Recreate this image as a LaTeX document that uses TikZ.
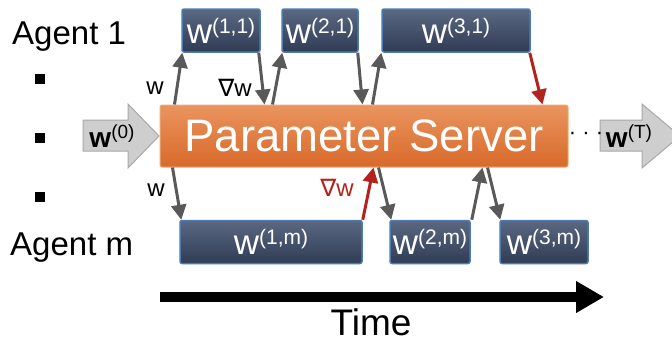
\documentclass[tikz,border=0pt]{standalone}
\usepackage{fontspec}
\setmainfont{Liberation Sans}
\newfontfamily\symfont{DejaVu Sans}
\usetikzlibrary{arrows.meta,calc}

\definecolor{slatetop}{RGB}{90,104,130}
\definecolor{slatebot}{RGB}{48,60,84}
\definecolor{slateedge}{RGB}{76,124,176}
\definecolor{orangetop}{RGB}{234,148,94}
\definecolor{orangebot}{RGB}{216,106,42}
\definecolor{orangeedge}{RGB}{240,170,120}
\definecolor{connGray}{RGB}{89,89,89}
\definecolor{gradRed}{RGB}{180,34,30}
\definecolor{blockFill}{RGB}{206,206,206}
\definecolor{blockEdge}{RGB}{168,168,168}

% w with a raised index, as printed in the boxes and block arrows
\newcommand{\wlabel}[2][35]{\fontsize{#1}{#1}\selectfont w\raisebox{10pt}{\fontsize{21}{21}\selectfont #2}}

\tikzset{
  agentbox/.style={draw=slateedge, line width=1.5pt, rounded corners=2pt,
    top color=slatetop, bottom color=slatebot, text=white,
    minimum height=43pt, inner sep=0pt},
  serverbox/.style={draw=orangeedge, line width=1pt, rounded corners=2pt,
    top color=orangetop, bottom color=orangebot, text=white,
    minimum width=408pt, minimum height=62pt, inner sep=0pt,
    font=\fontsize{45.5}{45.5}\selectfont},
  conn/.style={draw=connGray, line width=3pt,
    -{Triangle[length=15pt,width=15pt]}},
  gradconn/.style={conn, draw=gradRed},
  blockarrow/.style={fill=blockFill, draw=blockEdge, line width=1pt},
  agentlabel/.style={anchor=base west, inner sep=0pt,
    font=\fontsize{33}{33}\selectfont},
  edgelabel/.style={inner sep=0pt, font=\fontsize{24}{24}\selectfont},
  bulletmark/.style={fill=black, minimum size=10pt, inner sep=0pt},
}

\begin{document}
\begin{tikzpicture}[x=1pt, y=1pt]
  \useasboundingbox (0,0) rectangle (672,-341);
  \clip (0,0) rectangle (672,-341);

  % agent names and the vertical ellipsis between them
  \node[agentlabel] (a1) at (12,-44) {Agent 1};
  \node[agentlabel] (am) at (10,-255) {Agent m};
  \node[bulletmark] (d1) at (40,-79) {};
  \node[bulletmark] (d2) at (40,-138) {};
  \node[bulletmark] (d3) at (40,-197) {};

  % initial and final parameters
  \draw[blockarrow] (83,-120) -- (128,-120) -- (128,-104) -- (159,-136)
    -- (128,-168) -- (128,-151) -- (83,-151) -- cycle;
  \node[inner sep=0pt] (w0) at (112,-136)
    {\fontsize{28}{28}\selectfont\textbf{w}\raisebox{9pt}{\fontsize{19}{19}\selectfont(0)}};
  \draw[blockarrow] (600,-120) -- (642,-120) -- (642,-104) -- (680,-136)
    -- (642,-168) -- (642,-151) -- (600,-151) -- cycle;
  \node[inner sep=0pt] (wT) at (629,-136)
    {\fontsize{28}{28}\selectfont\textbf{w}\raisebox{9pt}{\fontsize{19}{19}\selectfont(T)}};
  \node[inner sep=0pt, font=\fontsize{22}{22}\selectfont] (dots) at (586,-136) {· · ·};

  % parameter server
  \node[serverbox] (ps) at (364,-136) {Parameter Server};

  % agent 1 updates
  \node[agentbox, minimum width=78pt]  (b11) at (221,-30.5) {\wlabel{(1,1)}};
  \node[agentbox, minimum width=76pt]  (b21) at (320,-30.5) {\wlabel{(2,1)}};
  \node[agentbox, minimum width=148pt] (b31) at (456,-30.5) {\wlabel{(3,1)}};

  % agent m updates
  \node[agentbox, minimum width=182pt] (b1m) at (271,-242) {\wlabel{(1,m)}};
  \node[agentbox, minimum width=80pt]  (b2m) at (430,-242) {\wlabel{(2,m)}};
  \node[agentbox, minimum width=88pt]  (b3m) at (544,-242) {\wlabel{(3,m)}};

  % exchanges with agent 1
  \draw[conn] ($(ps.north west)+(15,0)$) -- ($(b11.south west)+(1,0)$);
  \draw[conn] ($(b11.south east)+(-2,0)$) -- ($(ps.north west)+(105,0)$);
  \draw[conn] ($(ps.north west)+(113,0)$) -- ($(b21.south west)+(1,0)$);
  \draw[conn] ($(b21.south east)+(-1,0)$) -- ($(ps.north west)+(203,0)$);
  \draw[conn] ($(ps.north west)+(213,0)$) -- ($(b31.south west)+(0,0)$);
  \draw[gradconn] ($(b31.south east)+(-1,0)$) -- ($(ps.north west)+(383,0)$);
  \node[edgelabel] (lw1) at (155,-88) {w};
  \node[edgelabel] (lg1) at (235,-88) {{\symfont ∇}w};

  % exchanges with agent m
  \draw[conn] ($(ps.south west)+(13,0)$) -- ($(b1m.north west)+(2,0)$);
  \draw[gradconn] ($(b1m.north east)+(0,0)$) -- ($(ps.south west)+(214,0)$);
  \draw[conn] ($(ps.south west)+(219,0)$) -- ($(b2m.north west)+(2,0)$);
  \draw[conn] ($(b2m.north east)+(1,0)$) -- ($(ps.south west)+(323,0)$);
  \draw[conn] ($(ps.south west)+(328,0)$) -- ($(b3m.north west)+(1,0)$);
  \node[edgelabel] (lw2) at (156,-190) {w};
  \node[edgelabel, text=gradRed] (lg2) at (337,-188) {{\symfont ∇}w};

  % time axis
  \coordinate (t0) at (160,-297);
  \coordinate (t1) at (604,-297);
  \draw[line width=10pt, -{Triangle[length=28pt,width=30pt]}] (t0) -- (t1);
  \node[anchor=base, inner sep=0pt, font=\fontsize{37}{37}\selectfont] (time) at (371,-335) {Time};
\end{tikzpicture}
\end{document}
